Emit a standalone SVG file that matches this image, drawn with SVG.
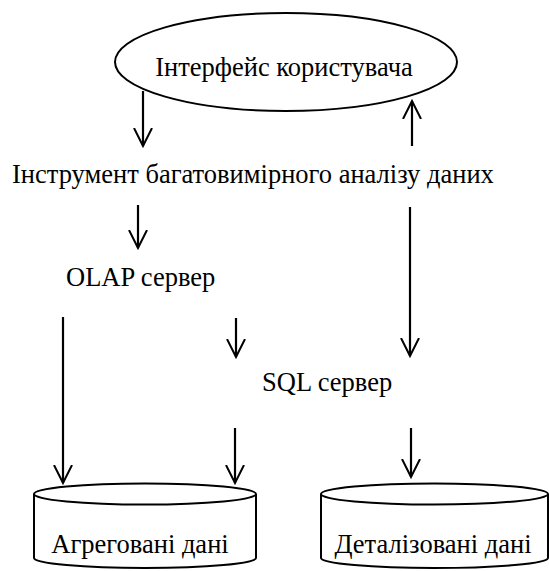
<svg xmlns="http://www.w3.org/2000/svg" width="549" height="571" viewBox="0 0 549 571">
<defs>
<marker id="ah" viewBox="0 0 20 20" refX="18" refY="10" markerWidth="20" markerHeight="20" markerUnits="userSpaceOnUse" orient="auto">
<path d="M0,1 L18,10 L0,19" fill="none" stroke="#000" stroke-width="2"/>
</marker>
</defs>
<style>
text{font-family:'Liberation Serif','DejaVu Serif',serif;font-size:26.5px;fill:#000}
.shape{fill:#fff;stroke:#000;stroke-width:2}
.arr{stroke:#000;stroke-width:2.2;fill:none}
</style>
<rect width="549" height="571" fill="#fff"/>
<g id="ui">
<ellipse class="shape" cx="286" cy="62" rx="171" ry="49"/>
<text x="284" y="76" text-anchor="middle">Інтерфейс користувача</text>
</g>
<g id="tool">
<text x="12" y="183">Інструмент багатовимірного аналізу даних</text>
</g>
<g id="olap">
<text x="66" y="286">OLAP сервер</text>
</g>
<g id="sql">
<text x="262" y="391">SQL сервер</text>
</g>
<g id="agg">
<path class="shape" d="M34,494 L34,558 A111,10 0 0 0 256,558 L256,494"/>
<ellipse class="shape" cx="145" cy="494" rx="111" ry="10.5"/>
<text x="140" y="553" text-anchor="middle">Агреговані дані</text>
</g>
<g id="det">
<path class="shape" d="M321,494 L321,558 A113.5,10 0 0 0 548,558 L548,494"/>
<ellipse class="shape" cx="434.5" cy="494" rx="113.5" ry="10.5"/>
<text x="433" y="553" text-anchor="middle">Деталізовані дані</text>
</g>
<g id="connectors">
<line class="arr" x1="143" y1="91" x2="143" y2="146" marker-end="url(#ah)"/>
<line class="arr" x1="412" y1="146" x2="412" y2="101" marker-end="url(#ah)"/>
<line class="arr" x1="138" y1="205" x2="138" y2="248" marker-end="url(#ah)"/>
<line class="arr" x1="410" y1="207" x2="410" y2="356" marker-end="url(#ah)"/>
<line class="arr" x1="63" y1="317" x2="63" y2="483" marker-end="url(#ah)"/>
<line class="arr" x1="236" y1="318" x2="236" y2="357" marker-end="url(#ah)"/>
<line class="arr" x1="235" y1="428" x2="235" y2="483" marker-end="url(#ah)"/>
<line class="arr" x1="411" y1="428" x2="411" y2="477" marker-end="url(#ah)"/>
</g>
</svg>
